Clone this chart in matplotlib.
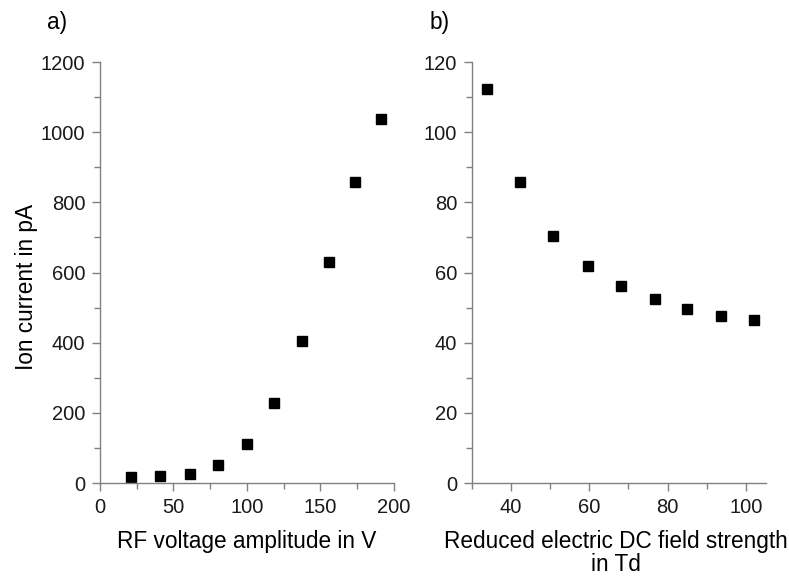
import matplotlib
matplotlib.use("Agg")
import matplotlib.pyplot as plt
from matplotlib.ticker import MultipleLocator

plt.rcParams['font.family'] = ['Liberation Sans', 'DejaVu Sans']

# Panel a) data
rf_voltage = [21, 41, 61, 80.5, 100, 118.6, 137.4, 155.8, 173.7, 191.2]
ion_current_a = [16, 19, 26.5, 50, 110, 228, 406, 630, 859, 1038]

# Panel b) data
field_strength = [34.0, 42.4, 50.8, 59.6, 68.1, 76.7, 85.0, 93.5, 102.1]
ion_current_b = [112.2, 85.8, 70.4, 61.8, 56.2, 52.4, 49.6, 47.6, 46.4]

fig = plt.figure(figsize=(7.89, 5.79), dpi=100)
axL = fig.add_axes([0.1267, 0.1658, 0.3726, 0.7271])
axR = fig.add_axes([0.5978, 0.1658, 0.3726, 0.7271])

spine_col = '#808080'
fs_tick = 14.5
fs_label = 16.3

for ax in (axL, axR):
    for s in ('top', 'right'):
        ax.spines[s].set_visible(False)
    for s in ('left', 'bottom'):
        ax.spines[s].set_color(spine_col)
        ax.spines[s].set_linewidth(1.0)
    ax.tick_params(which='major', direction='out', length=6, width=1.0, pad=4.5,
                   color=spine_col, labelsize=fs_tick, labelcolor='#1a1a1a')
    ax.tick_params(which='minor', direction='out', length=4, width=1.0,
                   color=spine_col)

axL.plot(rf_voltage, ion_current_a, 's', color='black', markersize=6.5)
axL.set_xlim(0, 200)
axL.set_ylim(0, 1200)
axL.xaxis.set_major_locator(MultipleLocator(50))
axL.xaxis.set_minor_locator(MultipleLocator(25))
axL.yaxis.set_major_locator(MultipleLocator(200))
axL.yaxis.set_minor_locator(MultipleLocator(100))
axL.set_xlabel('RF voltage amplitude in V', fontsize=fs_label, labelpad=9.5)
axL.set_ylabel('Ion current in pA', fontsize=fs_label, labelpad=2)
axL.yaxis.label.set_y(0.4656)

axR.plot(field_strength, ion_current_b, 's', color='black', markersize=6.5)
axR.set_xlim(30, 105)
axR.set_ylim(0, 120)
axR.xaxis.set_major_locator(MultipleLocator(20))
axR.xaxis.set_minor_locator(MultipleLocator(10))
axR.yaxis.set_major_locator(MultipleLocator(20))
axR.yaxis.set_minor_locator(MultipleLocator(10))
axR.set_xlabel('Reduced electric DC field strength\nin Td', fontsize=fs_label,
               labelpad=9.5, linespacing=1.0)
axR.xaxis.label.set_x(0.49)

fig.text(47 / 789, 1 - 22 / 579, 'a)', fontsize=fs_label, va='center', ha='left')
fig.text(430 / 789, 1 - 22 / 579, 'b)', fontsize=fs_label, va='center', ha='left')

fig.savefig('out.png', dpi=100)
